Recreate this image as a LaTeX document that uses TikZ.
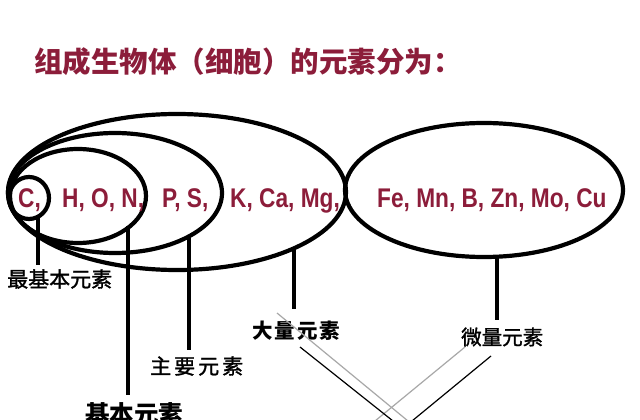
\documentclass[tikz,border=0pt]{standalone}
\usepackage{fontspec}
\setmainfont{Liberation Sans}
\newfontfamily\cjk{Noto Sans CJK SC}
\newfontfamily\cjkmid[FakeBold=1.5]{Noto Sans CJK SC}
\newfontfamily\elfont[FakeStretch=0.84]{Liberation Sans Bold}
\usetikzlibrary{shapes.geometric}
\definecolor{wine}{HTML}{8C1D3A}
\definecolor{lightline}{HTML}{A8A8A8}
\begin{document}
\begin{tikzpicture}[x=1pt,y=-1pt,
  ring/.style={draw,ellipse,line width=4.2pt,inner sep=0pt},
  elem/.style={anchor=base west,inner sep=0pt,text=wine,font=\elfont\fontsize{27}{27}\selectfont},
  stem/.style={line width=4.5pt},
  lab/.style={anchor=west,inner sep=0pt,text=black},
  thin/.style={line width=1.2pt}]
\useasboundingbox[fill=white] (0,0) rectangle (640,420);
% title
\node[anchor=west,inner sep=0pt,text=wine,font=\cjk\bfseries\fontsize{28.5}{28.5}\selectfont] (title) at (34,62) {组成生物体（细胞）的元素分为：};
% ellipses
\node[ring,minimum width=338pt,minimum height=156pt] (e4) at (177,192) {};
\node[ring,minimum width=214pt,minimum height=120pt] (e3) at (115,193) {};
\node[ring,minimum width=136pt,minimum height=94pt] (e2) at (78,196) {};
\node[ring,minimum width=40pt,minimum height=42pt] (e1) at (29,198) {};
\node[ring,minimum width=278pt,minimum height=134pt] (e5) at (484,190) {};
% element texts
\node[elem] (tC) at (18,207) {C,};
\node[elem] (tHON) at (62,207) {H, O, N,};
\node[elem] (tPS) at (162,207) {P, S,};
\node[elem] (tK) at (230,207) {K, Ca, Mg,};
\node[elem] (tFe) at (377,207) {Fe, Mn, B, Zn, Mo, Cu};
% labels
\node[lab,font=\cjkmid\fontsize{21}{21}\selectfont] (lab1) at (7,279) {最基本元素};
\node[lab,font=\cjk\bfseries\fontsize{24.5}{24.5}\selectfont] (lab2) at (85,414) {基本元素};
\node[lab,font=\cjkmid\fontsize{21}{21}\selectfont] (lab3) at (150,366) {主\hspace{3pt}要\hspace{3pt}元\hspace{3pt}素};
\node[lab,font=\cjk\bfseries\fontsize{20.5}{20.5}\selectfont] (lab4) at (252,331) {大\hspace{2pt}量\hspace{2pt}元\hspace{2pt}素};
\node[lab,font=\cjkmid\fontsize{20.5}{20.5}\selectfont] (lab5) at (461,337) {微量元素};
% stems
\coordinate (t1) at (38,216);  \coordinate (u1) at (38,265);
\coordinate (t2) at (128,226); \coordinate (u2) at (128,395);
\coordinate (t3) at (189,236); \coordinate (u3) at (189,350);
\coordinate (t4) at (294,248); \coordinate (u4) at (294,309);
\coordinate (t5) at (497,256); \coordinate (u5) at (497,320);
\draw[stem] (t1) -- (u1);
\draw[stem] (t2) -- (u2);
\draw[stem] (t3) -- (u3);
\draw[stem] (t4) -- (u4);
\draw[stem] (t5) -- (u5);
% crossing thin lines
\coordinate (g1a) at (277,313); \coordinate (g1b) at (408,421);
\coordinate (k1a) at (300,347); \coordinate (k1b) at (393,421);
\coordinate (g2a) at (465,347); \coordinate (g2b) at (375,421);
\coordinate (k2a) at (491,356); \coordinate (k2b) at (412,421);
\draw[thin,lightline] (g1a) -- (g1b);
\draw[thin,lightline] (g2a) -- (g2b);
\draw[thin,black] (k1a) -- (k1b);
\draw[thin,black] (k2a) -- (k2b);
\end{tikzpicture}
\end{document}
